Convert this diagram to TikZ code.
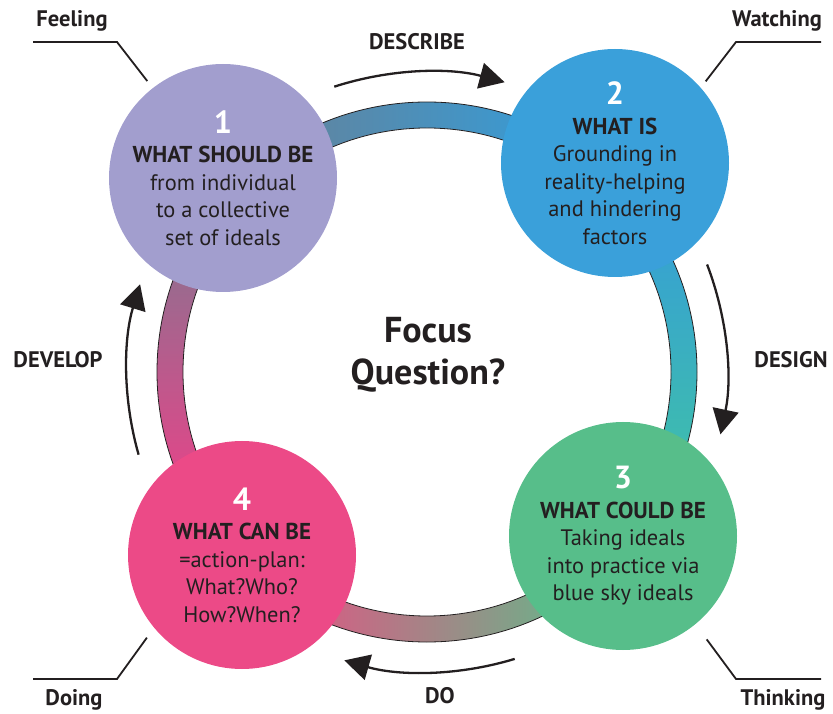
\documentclass[tikz,border=0pt]{standalone}
\usepackage{fontspec}
\setmainfont{PT Sans}
\usepackage{xcolor}
\usepackage{tikz}
\usetikzlibrary{arrows.meta,positioning}
\definecolor{inkdark}{RGB}{35,31,32}
\definecolor{lavender}{RGB}{162,158,206}
\definecolor{skyblue}{RGB}{58,160,218}
\definecolor{leafgreen}{RGB}{87,190,138}
\definecolor{hotpink}{RGB}{236,74,135}
% ring gradient ends
\definecolor{topleft}{RGB}{104,128,149}
\definecolor{topright}{RGB}{45,161,227}
\definecolor{righttop}{RGB}{52,152,222}
\definecolor{rightbottom}{RGB}{65,200,159}
\definecolor{bottomleft}{RGB}{244,69,130}
\definecolor{bottomright}{RGB}{80,200,139}
\definecolor{lefttop}{RGB}{120,123,145}
\definecolor{leftbottom}{RGB}{255,56,135}
\newcommand{\stagenum}{\color{white}\bfseries\fontsize{32}{32}\selectfont}
\newcommand{\stagehead}{\bfseries\fontsize{23}{27.5}\selectfont}

\begin{document}
\begin{tikzpicture}[x=1pt, y=1pt,
    stage/.style={circle, minimum size=228pt, inner sep=0pt, align=center, text=inkdark, font=\fontsize{22.4}{27.5}\selectfont},
    tag/.style={text=inkdark, font=\bfseries\fontsize{22.5}{26}\selectfont},
    flow/.style={draw=inkdark, line width=2.3pt, -{Triangle[length=25pt, width=26pt]}},
    callout/.style={draw=inkdark, line width=1.8pt}]
    \useasboundingbox (0,0) rectangle (833,713);
    \coordinate (ctr) at (427,341);

    % Ring
    \begin{scope}
        \clip (ctr) -- ++(48:270) arc[start angle=48, end angle=136, radius=270] -- cycle;
        \shade[left color=topleft, right color=topright] (240,515) rectangle (620,615);
    \end{scope}
    \begin{scope}
        \clip (ctr) -- ++(-40:270) arc[start angle=-40, end angle=48, radius=270] -- cycle;
        \shade[top color=righttop, bottom color=rightbottom] (580,160) rectangle (700,550);
    \end{scope}
    \begin{scope}
        \clip (ctr) -- ++(225:270) arc[start angle=225, end angle=320, radius=270] -- cycle;
        \shade[left color=bottomleft, right color=bottomright] (230,65) rectangle (640,170);
    \end{scope}
    \begin{scope}
        \clip (ctr) -- ++(136:270) arc[start angle=136, end angle=225, radius=270] -- cycle;
        \shade[top color=lefttop, bottom color=leftbottom] (150,150) rectangle (260,530);
    \end{scope}
    \fill[white] (ctr) circle[radius=244];
    \draw[inkdark, line width=0.8pt] (ctr) circle[radius=270] (ctr) circle[radius=244];

    \node[font=\bfseries\fontsize{36}{42}\selectfont, text=inkdark, align=center] (focus) at (428,358) {Focus\\Question?};

    % Stages
    \node[stage, fill=lavender] (s1) at (223,535) {{\stagenum 1}\\[2pt]{\stagehead WHAT SHOULD BE}\\from individual\\to a collective\\set of ideals};
    \node[stage, fill=skyblue] (s2) at (615,550) {{\stagenum 2}\\[2pt]{\stagehead WHAT IS}\\Grounding in\\reality-helping\\and hindering\\factors};
    \node[stage, fill=leafgreen] (s3) at (623,177) {{\stagenum 3}\\[2pt]{\stagehead WHAT COULD BE}\\Taking ideals\\into practice via\\blue sky ideals};
    \node[stage, fill=hotpink] (s4) at (242,158) {{\stagenum 4}\\[2pt]{\stagehead WHAT CAN BE}\\=action-plan:\\What?Who?\\How?When?};

    % Arrows
    \node[tag] (describe) at (417,671) {DESCRIBE};
    \draw[flow] ([shift={(108:300)}]ctr) arc[start angle=108, end angle=75, radius=300];
    \node[tag] (design) at (791,353) {DESIGN};
    \draw[flow] ([shift={(21:300)}]ctr) arc[start angle=21, end angle=-12, radius=300];
    \node[tag] (do) at (440,17) {DO};
    \draw[flow] ([shift={(-73:300)}]ctr) arc[start angle=-73, end angle=-106, radius=300];
    \node[tag] (develop) at (58,353) {DEVELOP};
    \draw[flow] ([shift={(196:300)}]ctr) arc[start angle=196, end angle=163, radius=300];

    % Corner labels
    \node[tag] (feeling) at (72,692) {Feeling};
    \coordinate (feelA) at (33,671);
    \coordinate (feelB) at (117,671);
    \draw[callout] (feelA) -- (feelB) -- ([shift={(128:123)}]s1.center);

    \node[tag] (watching) at (777,692) {Watching};
    \coordinate (watchA) at (821,671);
    \coordinate (watchB) at (736,671);
    \draw[callout] (watchA) -- (watchB) -- ([shift={(42:122)}]s2.center);

    \node[tag] (thinking) at (783,13) {Thinking};
    \coordinate (thinkA) at (821,34);
    \coordinate (thinkB) at (736,34);
    \draw[callout] (thinkA) -- (thinkB) -- ([shift={(-51:133)}]s3.center);

    \node[tag] (doing) at (74,13) {Doing};
    \coordinate (doA) at (33,34);
    \coordinate (doB) at (117,34);
    \draw[callout] (doA) -- (doB) -- ([shift={(221:126)}]s4.center);
\end{tikzpicture}
\end{document}
